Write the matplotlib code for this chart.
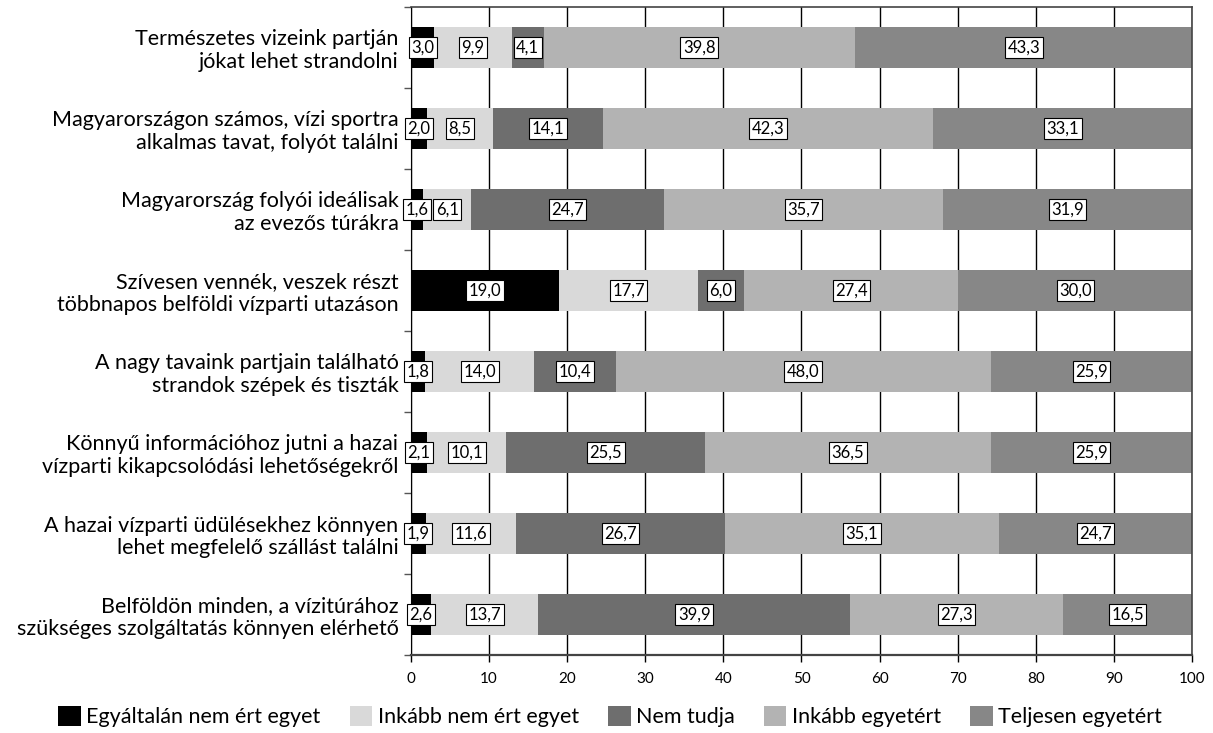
import matplotlib.pyplot as plt
import numpy as np

plt.rcParams['font.family'] = ['Lato', 'DejaVu Sans']

# statements, top to bottom
statements = [
    "Természetes vizeink partján\njókat lehet strandolni",
    "Magyarországon számos, vízi sportra\nalkalmas tavat, folyót találni",
    "Magyarország folyói ideálisak\naz evezős túrákra",
    "Szívesen vennék, veszek részt\ntöbbnapos belföldi vízparti utazáson",
    "A nagy tavaink partjain található\nstrandok szépek és tiszták",
    "Könnyű információhoz jutni a hazai\nvízparti kikapcsolódási lehetőségekről",
    "A hazai vízparti üdülésekhez könnyen\nlehet megfelelő szállást találni",
    "Belföldön minden, a vízitúrához\nszükséges szolgáltatás könnyen elérhető",
]

answers = ["Egyáltalán nem ért egyet", "Inkább nem ért egyet", "Nem tudja",
           "Inkább egyetért", "Teljesen egyetért"]

egyaltalan_nem = [3.0, 2.0, 1.6, 19.0, 1.8, 2.1, 1.9, 2.6]
inkabb_nem = [9.9, 8.5, 6.1, 17.7, 14.0, 10.1, 11.6, 13.7]
nem_tudja = [4.1, 14.1, 24.7, 6.0, 10.4, 25.5, 26.7, 39.9]
inkabb_igen = [39.8, 42.3, 35.7, 27.4, 48.0, 36.5, 35.1, 27.3]
teljesen = [43.3, 33.1, 31.9, 30.0, 25.9, 25.9, 24.7, 16.5]

series = [egyaltalan_nem, inkabb_nem, nem_tudja, inkabb_igen, teljesen]
colors = ['#000000', '#d9d9d9', '#6e6e6e', '#b3b3b3', '#878787']

fig = plt.figure(figsize=(12.13, 7.33), dpi=100)
ax = fig.add_axes([0.3388, 0.1064, 0.6439, 0.8841])

y = np.arange(len(statements))
left = np.zeros(len(statements))
for vals, col, name in zip(series, colors, answers):
    vals = np.array(vals)
    bars = ax.barh(y, vals, left=left, height=0.5, color=col, label=name, zorder=2)
    for b, v in zip(bars, vals):
        ax.text(b.get_x() + b.get_width() / 2, b.get_y() + b.get_height() / 2,
                f"{v:.1f}".replace('.', ','), ha='center', va='center',
                fontsize=12, zorder=3,
                bbox=dict(boxstyle='square,pad=0.15', fc='white', ec='black', lw=0.8))
    left += vals

ax.set_xlim(0, 100)
ax.set_ylim(len(statements) - 0.5, -0.5)
ax.set_xticks(np.arange(0, 101, 10))
ax.tick_params(axis='x', labelsize=11, length=5, width=1, direction='out', pad=7)
ax.xaxis.grid(True, color='black', lw=1, zorder=0)

ax.set_yticks(y)
ax.set_yticklabels(statements, fontsize=15.5, linespacing=1.18)
ax.tick_params(axis='y', length=0, pad=9)
ax.set_yticks(np.arange(-0.5, len(statements), 1), minor=True)
ax.tick_params(axis='y', which='minor', length=5, width=1, color='#555555')

for side in ['top', 'right']:
    ax.spines[side].set_color('#444444')
    ax.spines[side].set_linewidth(1.2)
ax.spines['bottom'].set_color('#444444')
ax.spines['bottom'].set_linewidth(1.6)
ax.spines['left'].set_color('black')

handles, labels = ax.get_legend_handles_labels()
fig.legend(handles, labels, loc='center', bbox_to_anchor=(0.503, 0.022), ncol=5,
           frameon=False, fontsize=15.5, handlelength=1.05, handleheight=1.0,
           handletextpad=0.25, columnspacing=1.35)

fig.savefig('out.png', dpi=100)
